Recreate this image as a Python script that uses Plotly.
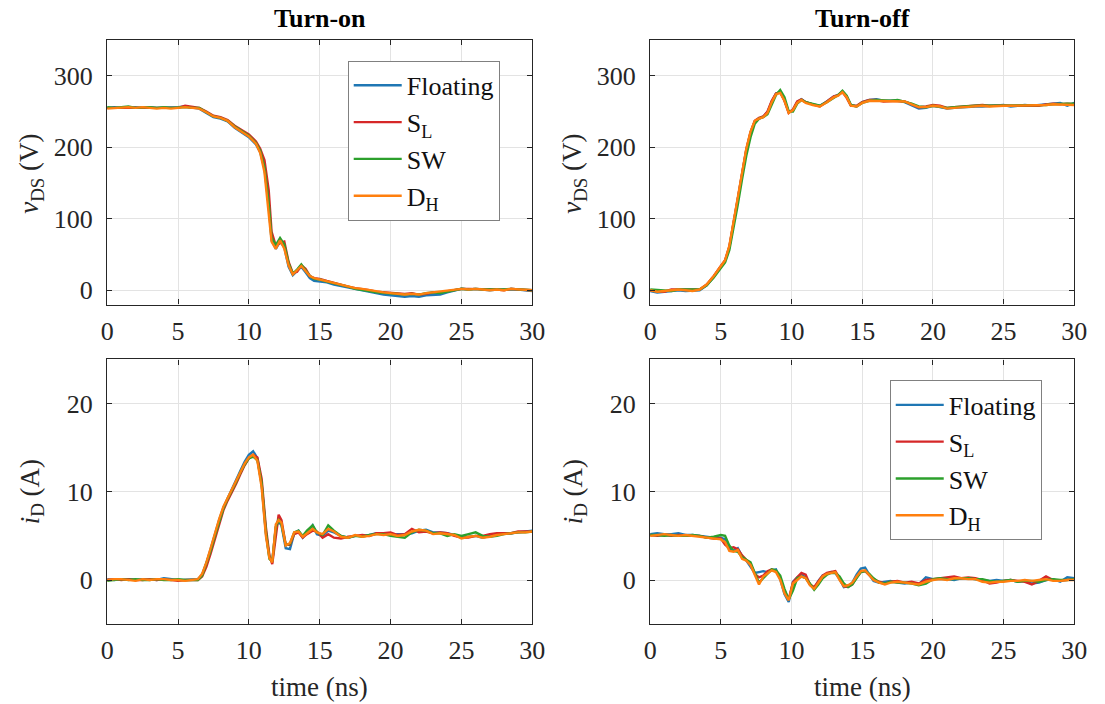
import plotly.graph_objects as go

# ---------------- data ----------------
series_names = ["Floating", "S<sub>L</sub>", "SW", "D<sub>H</sub>"]
series_colors = ["#1f77b4", "#d62728", "#2ca02c", "#ff7f0e"]

# Turn-on, v_DS (V)
t_on_v = [0, 0.5, 1, 1.5, 2, 2.5, 3, 3.5, 4, 4.5, 5, 5.5, 6, 6.5, 7, 7.5, 8, 8.5, 9, 9.5,
          10, 10.5, 10.8, 11.1, 11.4, 11.6, 11.9, 12.2, 12.5, 12.8, 13.1, 13.4, 13.7, 14.0,
          14.3, 14.6, 15, 15.5, 16, 16.5, 17, 17.5, 18, 18.5, 19, 19.5, 20, 20.5, 21, 21.5,
          22, 22.5, 23, 23.5, 24, 24.5, 25, 25.5, 26, 26.5, 27, 27.5, 28, 28.5, 29, 29.5, 30]
von_floating = [255, 256, 255, 256, 256, 255, 256, 255, 255, 255, 256, 257, 255, 254, 248, 242, 240, 236, 227, 221,
                214, 204, 193, 170, 118, 70, 58, 68, 60, 33, 21, 27, 33, 25, 17, 13, 12, 11, 8, 6,
                3, 1, -1, -3, -5, -6, -7, -8, -9, -8, -9, -7, -7, -6, -3, 0, 2, 1, 2, 1,
                0, 1, 1, 2, 1, 0, -1]
von_sl = [255, 255, 256, 256, 255, 256, 255, 256, 255, 256, 255, 258, 256, 255, 250, 244, 242, 238, 230, 224,
          218, 208, 198, 182, 140, 82, 62, 66, 68, 40, 24, 26, 35, 30, 20, 17, 16, 13, 10, 8,
          5, 3, 2, 0, -2, -3, -4, -5, -5, -4, -6, -5, -3, -3, -1, 1, 2, 2, 2, 1,
          1, 1, 0, 2, 1, 1, 0]
von_sw = [256, 255, 256, 257, 255, 256, 256, 255, 256, 255, 256, 256, 255, 255, 249, 243, 241, 237, 229, 223,
          216, 206, 195, 172, 122, 74, 63, 73, 64, 38, 23, 29, 36, 28, 20, 16, 15, 12, 10, 7,
          5, 2, 1, -1, -3, -4, -4, -5, -6, -5, -6, -4, -3, -4, -2, 1, 2, 1, 2, 1,
          1, 0, 1, 2, 1, 0, 0]
von_dh = [254, 255, 255, 256, 255, 256, 255, 254, 255, 254, 255, 256, 255, 254, 249, 243, 241, 237, 228, 222,
          215, 205, 192, 165, 110, 68, 58, 70, 58, 35, 22, 28, 34, 27, 20, 17, 15, 13, 10, 8,
          5, 3, 2, 0, -2, -3, -4, -5, -6, -5, -6, -4, -3, -2, -1, 1, 2, 1, 2, 1,
          0, 1, 0, 2, 1, 0, 0]

# Turn-off, v_DS (V)
t_off_v = [0, 0.5, 1, 1.5, 2, 2.5, 3, 3.5, 4, 4.5, 5, 5.3, 5.6, 5.9, 6.2, 6.5, 6.8, 7.1, 7.4, 7.7,
           8.0, 8.3, 8.6, 8.9, 9.2, 9.5, 9.8, 10.1, 10.4, 10.7, 11.0, 11.5, 12, 12.5, 13, 13.3,
           13.6, 13.9, 14.2, 14.6, 15, 15.5, 16, 16.5, 17, 17.5, 18, 18.5, 19, 19.5, 20, 20.5,
           21, 21.5, 22, 22.5, 23, 23.5, 24, 24.5, 25, 25.5, 26, 26.5, 27, 27.5, 28, 28.5, 29, 29.5, 30]
voff_floating = [-1, -3, -2, -1, 0, -1, -1, 0, 7, 19, 33, 41, 60, 94, 128, 163, 196, 220, 236, 240,
                 243, 249, 264, 275, 277, 266, 249, 252, 263, 267, 263, 260, 258, 264, 271, 273, 278, 271, 259, 257,
                 263, 266, 267, 265, 265, 265, 263, 259, 254, 255, 258, 256, 254, 255, 256, 257, 257, 257, 258, 259,
                 259, 257, 258, 259, 258, 259, 259, 261, 262, 258, 262]
voff_sl = [0, -1, -2, 1, 1, 0, 0, 1, 8, 20, 34, 42, 61, 93, 128, 163, 197, 221, 237, 241,
           243, 250, 265, 275, 277, 265, 248, 253, 264, 267, 263, 260, 257, 264, 271, 273, 277, 269, 258, 258,
           263, 266, 266, 264, 265, 265, 264, 260, 256, 257, 259, 258, 255, 256, 257, 257, 258, 259, 258, 258,
           259, 259, 258, 259, 258, 258, 260, 261, 260, 261, 260]
voff_sw = [1, 0, 0, -1, 1, 1, 0, 1, 7, 18, 31, 39, 56, 86, 120, 155, 188, 214, 233, 240,
           242, 246, 260, 273, 280, 270, 250, 250, 261, 266, 263, 260, 258, 263, 270, 273, 279, 272, 259, 257,
           262, 265, 266, 265, 265, 266, 264, 261, 257, 256, 258, 257, 255, 256, 257, 257, 258, 258, 258, 258,
           259, 258, 258, 259, 259, 258, 259, 260, 261, 261, 261]
voff_dh = [0, -2, -1, 0, 1, 0, -1, 1, 8, 20, 33, 42, 62, 95, 130, 165, 198, 222, 237, 240,
           242, 248, 263, 274, 276, 265, 248, 252, 262, 266, 262, 259, 257, 263, 270, 272, 277, 270, 258, 257,
           262, 265, 265, 264, 264, 265, 264, 260, 256, 256, 258, 257, 254, 255, 256, 256, 257, 258, 257, 258,
           258, 258, 258, 258, 258, 258, 259, 260, 260, 260, 259]

# Turn-on, i_D (A)
t_on_i = [0, 0.5, 1, 1.5, 2, 2.5, 3, 3.5, 4, 4.5, 5, 5.5, 6,
          6.4, 6.7, 7.0, 7.3, 7.6, 7.9, 8.2, 8.5, 8.8, 9.1, 9.4, 9.7, 10.0, 10.3, 10.6, 10.9, 11.2,
          11.45, 11.65, 11.9, 12.1, 12.3, 12.6, 12.9, 13.2, 13.5, 13.8, 14.1, 14.5, 14.8, 15.2, 15.6,
          16, 16.5, 17, 17.5, 18, 18.5, 19, 19.5, 20, 20.5, 21, 21.5, 22, 22.5, 23, 23.5, 24, 24.5,
          25, 25.5, 26, 26.5, 27, 27.5, 28, 28.5, 29, 29.5, 30]
ion_floating = [0.1, 0.0, 0.1, 0.1, 0.0, 0.1, 0.1, 0.0, 0.2, 0.1, 0.0, 0.0, 0.1,
                0.1, 0.6, 1.9, 3.5, 5.2, 6.8, 8.2, 9.3, 10.2, 11.3, 12.4, 13.4, 14.2, 14.6, 13.8, 10.8, 5.3,
                2.6, 2.0, 6.0, 6.6, 6.2, 3.6, 3.5, 5.3, 5.6, 4.8, 5.4, 6.2, 5.2, 5.0, 5.6,
                5.4, 5.0, 4.8, 5.0, 5.0, 5.1, 5.3, 5.2, 5.1, 5.2, 5.2, 5.3, 5.6, 5.7, 5.4, 5.4, 5.3, 5.1,
                4.8, 4.9, 5.0, 4.8, 5.0, 5.1, 5.3, 5.3, 5.4, 5.5, 5.6]
ion_sl = [0.0, 0.1, 0.0, 0.1, 0.0, 0.0, 0.1, 0.0, 0.1, 0.0, -0.1, 0.0, 0.0,
          0.0, 0.4, 1.5, 3.0, 4.7, 6.4, 7.9, 9.0, 9.9, 10.9, 12.0, 13.0, 13.8, 14.2, 13.9, 11.5, 6.0,
          2.8, 1.8, 5.0, 7.4, 6.8, 4.0, 4.0, 5.2, 5.4, 4.8, 5.2, 5.6, 5.5, 4.8, 5.2,
          4.8, 4.7, 4.9, 5.0, 5.1, 5.0, 5.3, 5.3, 5.4, 5.1, 5.2, 5.8, 5.4, 5.5, 5.3, 5.4, 5.3, 5.0,
          4.8, 4.8, 5.0, 5.0, 5.2, 5.3, 5.3, 5.3, 5.5, 5.5, 5.5]
ion_sw = [-0.1, 0.0, 0.1, 0.0, 0.1, 0.0, 0.0, 0.1, 0.0, 0.0, 0.1, 0.0, 0.0,
          0.0, 0.5, 1.8, 3.3, 5.0, 6.6, 8.1, 9.2, 10.1, 11.1, 12.2, 13.1, 13.8, 14.0, 13.6, 11.0, 5.5,
          2.4, 2.1, 6.0, 6.9, 6.3, 4.0, 4.1, 5.4, 5.6, 5.0, 5.6, 6.2, 5.4, 5.1, 6.2,
          5.6, 5.0, 4.8, 5.0, 4.9, 5.1, 5.2, 5.2, 5.0, 4.9, 4.8, 5.4, 5.7, 5.6, 5.3, 5.3, 5.0, 5.2,
          5.0, 5.2, 5.4, 5.0, 4.9, 5.0, 5.2, 5.3, 5.4, 5.4, 5.5]
ion_dh = [0.0, 0.1, 0.1, 0.0, -0.1, 0.1, 0.0, 0.1, 0.1, 0.0, 0.0, -0.1, 0.0,
          0.1, 0.7, 2.0, 3.6, 5.3, 6.9, 8.3, 9.3, 10.2, 11.2, 12.3, 13.2, 13.9, 14.2, 13.5, 10.5, 5.0,
          2.5, 2.0, 6.3, 6.8, 6.5, 3.9, 4.2, 5.4, 5.5, 4.9, 5.3, 5.8, 5.4, 5.2, 5.8,
          5.5, 4.9, 4.8, 5.1, 4.9, 5.0, 5.2, 5.1, 5.2, 5.0, 5.1, 5.5, 5.7, 5.6, 5.2, 5.3, 5.2, 5.1,
          4.7, 4.9, 5.0, 4.8, 4.9, 5.1, 5.2, 5.3, 5.4, 5.4, 5.5]

# Turn-off, i_D (A)
t_off_i = [0, 0.5, 1, 1.5, 2, 2.5, 3, 3.5, 4, 4.5, 5,
           5.3, 5.6, 5.9, 6.2, 6.5, 6.8, 7.1, 7.4, 7.7, 8.0, 8.3, 8.6, 8.9, 9.2, 9.5, 9.8, 10.1, 10.4,
           10.7, 11.0, 11.3, 11.6, 11.9, 12.2, 12.5, 12.8, 13.1, 13.4, 13.7, 14.0, 14.3, 14.6, 14.9,
           15.2, 15.5, 15.8, 16.2, 16.6,
           17, 17.5, 18, 18.5, 19, 19.5, 20, 20.5, 21, 21.5, 22, 22.5, 23, 23.5, 24, 24.5, 25, 25.5,
           26, 26.5, 27, 27.5, 28, 28.5, 29, 29.5, 30]
ioff_floating = [5.2, 5.3, 5.2, 5.2, 5.3, 5.1, 5.1, 5.0, 4.9, 4.8, 4.8,
                 4.6, 3.5, 3.3, 3.6, 2.7, 2.2, 1.5, 0.8, 0.9, 1.0, 0.9, 1.1, 1.2, 0.1, -1.6, -2.5, -0.2, 0.3,
                 0.6, 0.3, -0.5, -1.0, -0.1, 0.5, 0.7, 0.9, 0.8, 0.1, -0.8, -0.7, -0.3, 0.6, 1.3,
                 1.4, 0.6, -0.1, -0.3, -0.2,
                 -0.1, -0.3, -0.4, -0.3, -0.5, 0.3, 0.1, 0.1, 0.1, 0.0, 0.2, 0.2, 0.1, 0.0, -0.1, 0.0, -0.1, 0.0,
                 -0.2, -0.1, -0.4, -0.3, 0.0, 0.1, -0.2, 0.3, 0.2]
ioff_sl = [5.1, 5.0, 5.1, 5.0, 5.1, 5.0, 5.0, 5.0, 4.8, 4.7, 4.7,
           4.0, 3.6, 3.7, 3.5, 2.8, 2.3, 1.8, 0.7, 0.3, 0.5, 1.0, 1.2, 1.0, 0.2, -1.2, -2.2, -0.3, 0.3,
           0.8, 0.6, -0.5, -0.8, -0.1, 0.5, 0.8, 0.9, 1.0, 0.2, -0.7, -0.8, -0.5, 0.3, 0.9,
           1.0, 0.6, 0.1, -0.2, -0.4,
           -0.2, -0.1, -0.3, -0.2, -0.4, 0.0, 0.1, 0.2, 0.3, 0.4, 0.2, 0.3, 0.2, 0.0, -0.4, -0.3, -0.1, 0.0,
           -0.1, -0.2, -0.5, -0.1, 0.4, 0.0, -0.1, 0.0, 0.1]
ioff_sw = [5.1, 5.1, 5.0, 5.1, 5.0, 5.0, 5.1, 5.0, 4.8, 4.9, 5.1,
           5.0, 3.9, 3.3, 3.2, 2.6, 2.3, 2.0, 0.8, -0.3, 0.2, 0.7, 1.2, 1.1, 0.5, -1.0, -2.2, -1.2, 0.2,
           0.4, 0.2, -0.4, -1.1, -0.5, 0.2, 0.6, 0.8, 0.8, 0.4, -0.4, -0.8, -0.5, 0.2, 0.9,
           1.0, 0.7, 0.2, -0.3, -0.4,
           -0.2, -0.3, -0.3, -0.4, -0.6, -0.4, 0.1, 0.2, 0.1, 0.1, 0.2, 0.2, 0.1, 0.1, -0.1, -0.2, -0.1, 0.0,
           -0.2, -0.1, -0.1, -0.2, 0.0, 0.1, 0.0, 0.0, 0.1]
ioff_dh = [5.0, 5.1, 5.2, 5.1, 5.0, 5.1, 5.0, 4.9, 4.8, 4.7, 4.6,
           4.3, 3.3, 3.2, 3.4, 2.4, 2.2, 1.7, 0.5, -0.5, 0.4, 0.8, 1.1, 0.9, 0.0, -1.5, -2.3, -0.4, 0.0,
           0.4, 0.2, -0.6, -1.0, -0.3, 0.4, 0.7, 0.8, 0.9, 0.0, -0.7, -0.6, -0.3, 0.4, 1.0,
           1.1, 0.6, 0.0, -0.3, -0.5,
           -0.3, -0.2, -0.3, -0.4, -0.5, -0.2, 0.0, 0.1, 0.0, 0.2, 0.2, 0.1, 0.1, -0.2, -0.3, -0.2, -0.2, -0.1,
           -0.1, 0.0, -0.1, 0.0, 0.1, -0.1, -0.1, 0.0, 0.0]

x_ticks = [0, 5, 10, 15, 20, 25, 30]
v_ticks = [0, 100, 200, 300]
i_ticks = [0, 10, 20]
panel_titles = ["Turn-on", "Turn-off"]
x_label = "time (ns)"
v_label = "<i>v</i><sub>DS</sub> (V)"
i_label = "<i>i</i><sub>D</sub> (A)"

# ---------------- figure ----------------
W, H = 1105, 704
FONT = "Liberation Serif"
fig = go.Figure()

panels = [
    ("x", "y", t_on_v, [von_floating, von_sl, von_sw, von_dh], "legend"),
    ("x2", "y2", t_off_v, [voff_floating, voff_sl, voff_sw, voff_dh], None),
    ("x3", "y3", t_on_i, [ion_floating, ion_sl, ion_sw, ion_dh], None),
    ("x4", "y4", t_off_i, [ioff_floating, ioff_sl, ioff_sw, ioff_dh], "legend2"),
]
for xa, ya, t, ys, leg in panels:
    for name, col, yv in zip(series_names, series_colors, ys):
        fig.add_trace(go.Scatter(
            x=t, y=yv, mode="lines", name=name, xaxis=xa, yaxis=ya,
            line=dict(color=col, width=2.4),
            showlegend=leg is not None, legend=leg if leg else "legend",
        ))

# pixel geometry of the axes boxes
L1, R1 = 102, 535
L2, R2 = 655, 1087
T1, B1 = 40, 305
T2, B2 = 360, 625

def px(x):
    return x / W

def py(y):
    return 1 - y / H

axis_common = dict(
    showline=True, linecolor="#262626", linewidth=1.3, mirror="allticks",
    ticks="inside", ticklen=5, tickwidth=1.2, tickcolor="#262626",
    showgrid=True, gridcolor="#e3e3e3", gridwidth=1, zeroline=False,
    tickfont=dict(family=FONT, size=26, color="#262626"),
)
xaxis_extra = dict(ticklabelstandoff=3)
yaxis_extra = dict(ticklabelstandoff=8)

fig.update_layout(
    width=W, height=H, margin=dict(l=0, r=0, t=0, b=0),
    paper_bgcolor="white", plot_bgcolor="white",
    font=dict(family=FONT, color="#262626"),
    xaxis=dict(domain=[px(L1), px(R1)], range=[0, 30], tickvals=x_ticks, anchor="y", **axis_common, **xaxis_extra),
    yaxis=dict(domain=[py(B1), py(T1)], range=[-20, 350], tickvals=v_ticks, anchor="x", **axis_common, **yaxis_extra),
    xaxis2=dict(domain=[px(L2), px(R2)], range=[0, 30], tickvals=x_ticks, anchor="y2", **axis_common, **xaxis_extra),
    yaxis2=dict(domain=[py(B1), py(T1)], range=[-20, 350], tickvals=v_ticks, anchor="x2", **axis_common, **yaxis_extra),
    xaxis3=dict(domain=[px(L1), px(R1)], range=[0, 30], tickvals=x_ticks, anchor="y3", **axis_common, **xaxis_extra),
    yaxis3=dict(domain=[py(B2), py(T2)], range=[-5, 25], tickvals=i_ticks, anchor="x3", **axis_common, **yaxis_extra),
    xaxis4=dict(domain=[px(L2), px(R2)], range=[0, 30], tickvals=x_ticks, anchor="y4", **axis_common, **xaxis_extra),
    yaxis4=dict(domain=[py(B2), py(T2)], range=[-5, 25], tickvals=i_ticks, anchor="x4", **axis_common, **yaxis_extra),
    legend=dict(x=px(347), y=py(61), xanchor="left", yanchor="top",
                bgcolor="white", bordercolor="#808080", borderwidth=1,
                font=dict(family=FONT, size=26, color="#111111"), itemwidth=48),
    legend2=dict(x=px(899), y=py(381), xanchor="left", yanchor="top",
                 bgcolor="white", bordercolor="#808080", borderwidth=1,
                 font=dict(family=FONT, size=26, color="#111111"), itemwidth=48),
)

ann = []
for title, cx in zip(panel_titles, [(L1 + R1) / 2, (L2 + R2) / 2]):
    ann.append(dict(text="<b>%s</b>" % title, x=px(cx), y=py(19), xref="paper", yref="paper",
                    showarrow=False, font=dict(family=FONT, size=26, color="#000000"),
                    xanchor="center", yanchor="middle"))
    ann.append(dict(text=x_label, x=px(cx), y=py(688), xref="paper", yref="paper",
                    showarrow=False, font=dict(family=FONT, size=27, color="#262626"),
                    xanchor="center", yanchor="middle"))
for lx in [25, 578]:
    ann.append(dict(text=v_label, x=px(lx), y=py((T1 + B1) / 2 + 2), xref="paper", yref="paper",
                    showarrow=False, textangle=-90, font=dict(family=FONT, size=27, color="#262626"),
                    xanchor="center", yanchor="middle"))
    ann.append(dict(text=i_label, x=px(lx), y=py((T2 + B2) / 2), xref="paper", yref="paper",
                    showarrow=False, textangle=-90, font=dict(family=FONT, size=27, color="#262626"),
                    xanchor="center", yanchor="middle"))
fig.update_layout(annotations=ann)

fig.write_html("out.html")
